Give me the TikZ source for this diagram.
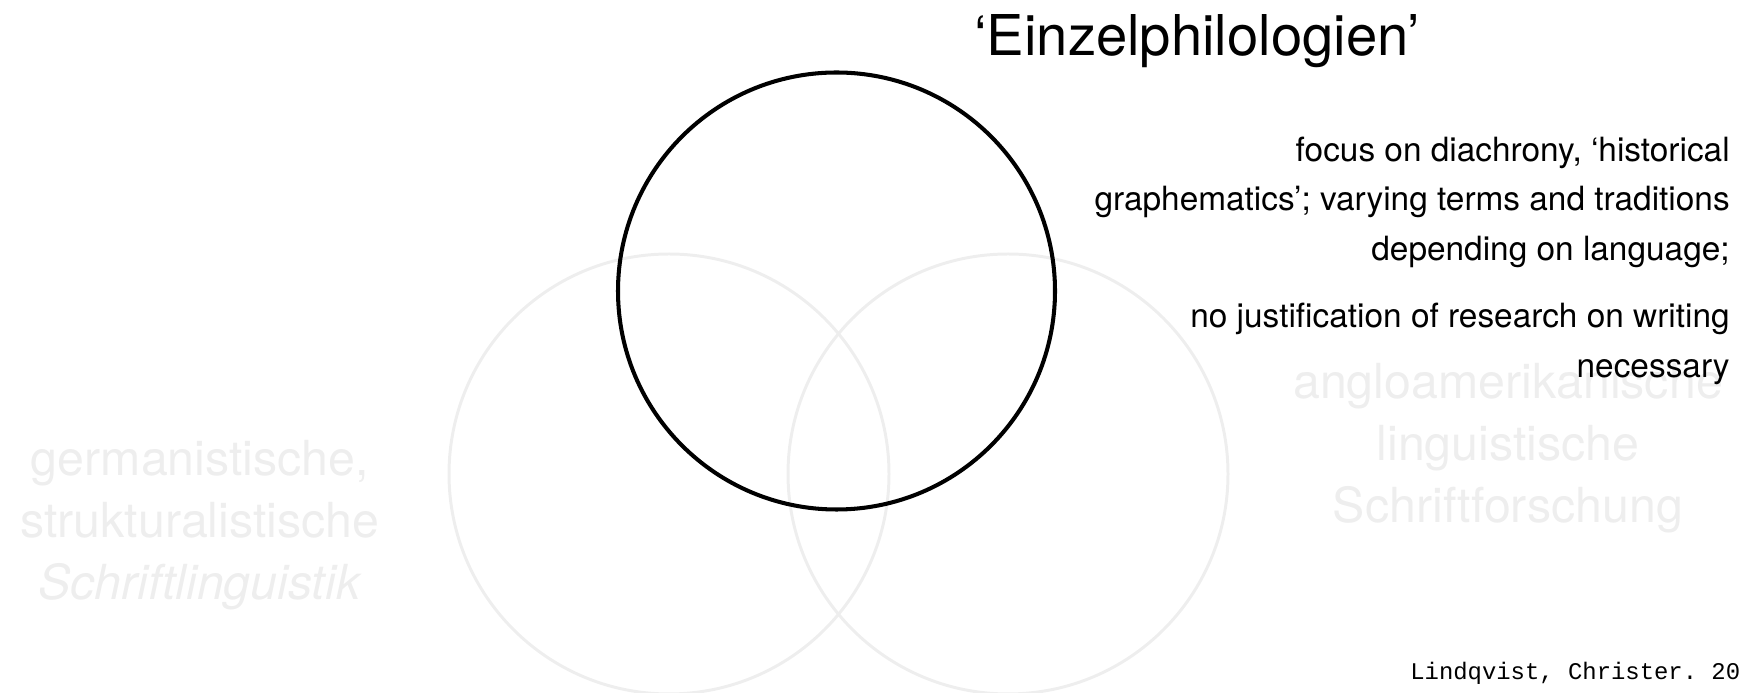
\documentclass[tikz,border=0pt]{standalone}
\usepackage{fontspec}
\setsansfont{TeX Gyre Heros}
\setmonofont{Liberation Mono}
\usepackage{tikz}
\usetikzlibrary{positioning}
\usepackage{xcolor}
\definecolor{inkBlack}{HTML}{000000}
\definecolor{paleGrey}{HTML}{EEEEEE}

\begin{document}
\begin{tikzpicture}[
  font=\sffamily,
  ring/.style={circle, minimum size=8.8cm, inner sep=0pt},
  ghost/.style={align=center, anchor=base, inner sep=0pt, text=paleGrey,
    font=\sffamily\fontsize{27.5}{35.3}\selectfont},
  note/.style={align=right, anchor=base east, inner sep=0pt, text=inkBlack,
    font=\sffamily\fontsize{19}{28.45}\selectfont}
]
  \useasboundingbox (0, 0) rectangle (34.78, 13.86);

  % Faded background circles
  \node[ring, draw=paleGrey, line width=1.7pt] (germRing) at (13.38, 4.38) {};
  \node[ring, draw=paleGrey, line width=1.7pt] (angloRing) at (20.16, 4.38) {};

  % (base anchor sits on the last line)
  \node[ghost] (germLabel) at (4.0, 1.86) {
    germanistische,\\ strukturalistische\\ \textit{Schriftlinguistik}
  };
  \node[ghost] (angloLabel) at (30.16, 3.40) {
    angloamerikanische\\ linguistische\\ Schriftforschung
  };

  % Highlighted circle
  \node[circle, minimum size=8.74cm, inner sep=0pt, draw=inkBlack, line width=2.3pt] (einzelRing) at (16.73, 8.04) {};

  % Heading and notes
  \node[anchor=base west, inner sep=0pt, font=\sffamily\fontsize{32}{38}\selectfont] (einzelTitle) at (19.48, 12.75) {‘Einzelphilologien’};

  \node[note] (diachronyNote) at (34.6, 8.64) {
    focus on diachrony, ‘historical\\
    graphematics’; varying terms and traditions\\
    depending on language;
  };
  \node[note] (justifyNote) at (34.6, 6.30) {
    no justification of research on writing\\
    necessary
  };

  % Source
  \node[anchor=base west, inner sep=0pt, font=\ttfamily\fontsize{13.6}{16}\selectfont] (sourceRef) at (28.2, 0.26) {Lindqvist, Christer. 20};

\end{tikzpicture}
\end{document}
